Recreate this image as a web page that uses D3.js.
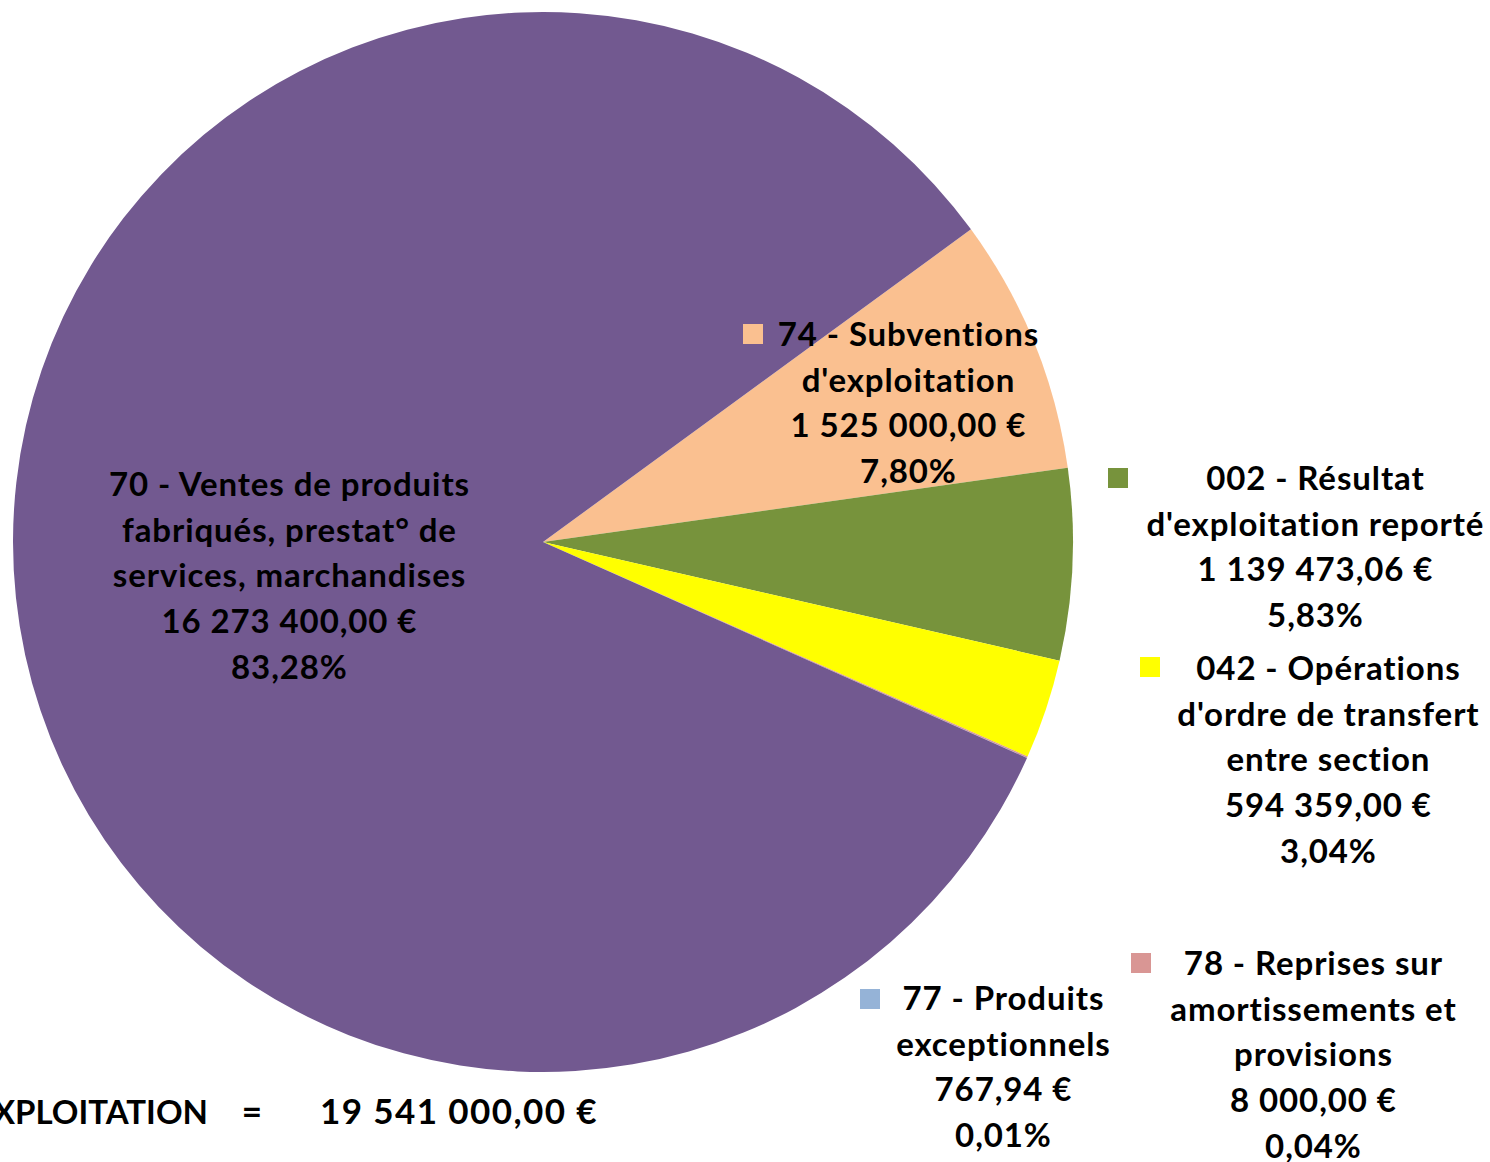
<!DOCTYPE html>
<html>
<head>
<meta charset="utf-8">
<script src="https://cdn.jsdelivr.net/npm/d3@7"></script>
<style>
    body { margin: 0; background: #fff; overflow: hidden; }
    svg text { font-family: Lato, "Open Sans", sans-serif; font-weight: bold; fill: #000; }
</style>
</head>
<body>
<div id="chart"></div>
<script>
// data, clockwise order as drawn
var codes = ["74", "002", "042", "78", "77", "70"];
var labels = [
    ["74 - Subventions", "d'exploitation"],
    ["002 - Résultat", "d'exploitation reporté"],
    ["042 - Opérations", "d'ordre de transfert", "entre section"],
    ["78 - Reprises sur", "amortissements et", "provisions"],
    ["77 - Produits", "exceptionnels"],
    ["70 - Ventes de produits", "fabriqués, prestat° de", "services, marchandises"]
];
var amounts = [1525000, 1139473.06, 594359, 8000, 767.94, 16273400];
var amountText = ["1 525 000,00 €", "1 139 473,06 €", "594 359,00 €", "8 000,00 €", "767,94 €", "16 273 400,00 €"];
var percentText = ["7,80%", "5,83%", "3,04%", "0,04%", "0,01%", "83,28%"];
var colors = ["#FAC090", "#77933C", "#FFFF00", "#D99694", "#95B3D7", "#725990"];
var totalText = "19 541 000,00 €";

var svgWidth = 1490, svgHeight = 1162;
var cx = 543, cy = 542, radius = 530;

var svg = d3.select("#chart")
    .append("svg")
    .attr("width", svgWidth)
    .attr("height", svgHeight);

var data = codes.map(function (c, i) {
    return { code: c, value: amounts[i], lines: labels[i], amount: amountText[i], pct: percentText[i], color: colors[i] };
});

var start = 53.85 * Math.PI / 180;
var pie = d3.pie()
    .sort(null)
    .value(d => d.value)
    .startAngle(start)
    .endAngle(start + 2 * Math.PI);

var arc = d3.arc().innerRadius(0).outerRadius(radius);

var chartGroup = svg.append("g")
    .attr("transform", `translate(${cx}, ${cy})`);

chartGroup.selectAll("path")
    .data(pie(data))
    .enter()
    .append("path")
    .attr("d", arc)
    .attr("fill", d => d.data.color);

// label boxes: centre x, first baseline, legend key position
var labelPos = {
    "70": { x: 289, y: 496, key: null },
    "74": { x: 908, y: 346, key: [743, 324] },
    "002": { x: 1315, y: 490, key: [1108, 468] },
    "042": { x: 1328, y: 680, key: [1140, 657] },
    "78": { x: 1313, y: 975, key: [1131, 953] },
    "77": { x: 1003, y: 1010, key: [860, 989] }
};
var lineH = 45.7;
var fontSize = 33;

var labelGroup = svg.append("g").attr("class", "labels");

data.forEach(function (d) {
    var p = labelPos[d.code];
    var lines = d.lines.concat([d.amount, d.pct]);
    var t = labelGroup.append("text")
        .attr("text-anchor", "middle")
        .style("font-size", fontSize + "px")
        .style("letter-spacing", "0.9px");
    lines.forEach(function (l, i) {
        t.append("tspan")
            .attr("x", p.x + 0.45)
            .attr("y", p.y + i * lineH)
            .text(l);
    });
    if (p.key) {
        labelGroup.append("rect")
            .attr("x", p.key[0])
            .attr("y", p.key[1])
            .attr("width", 20)
            .attr("height", 20)
            .attr("fill", d.color);
    }
});

// total line at the bottom (cut at the left edge like the original)
var totalGroup = svg.append("g").style("font-size", "35px");
totalGroup.append("text")
    .attr("x", 208).attr("y", 1124)
    .attr("text-anchor", "end")
    .style("font-size", "33px")
    .text("TOTAL EXPLOITATION");
totalGroup.append("text")
    .attr("x", 252).attr("y", 1124)
    .attr("text-anchor", "middle")
    .text("=");
totalGroup.append("text")
    .attr("x", 320).attr("y", 1124)
    .style("letter-spacing", "1.4px")
    .text(totalText);
</script>
</body>
</html>
